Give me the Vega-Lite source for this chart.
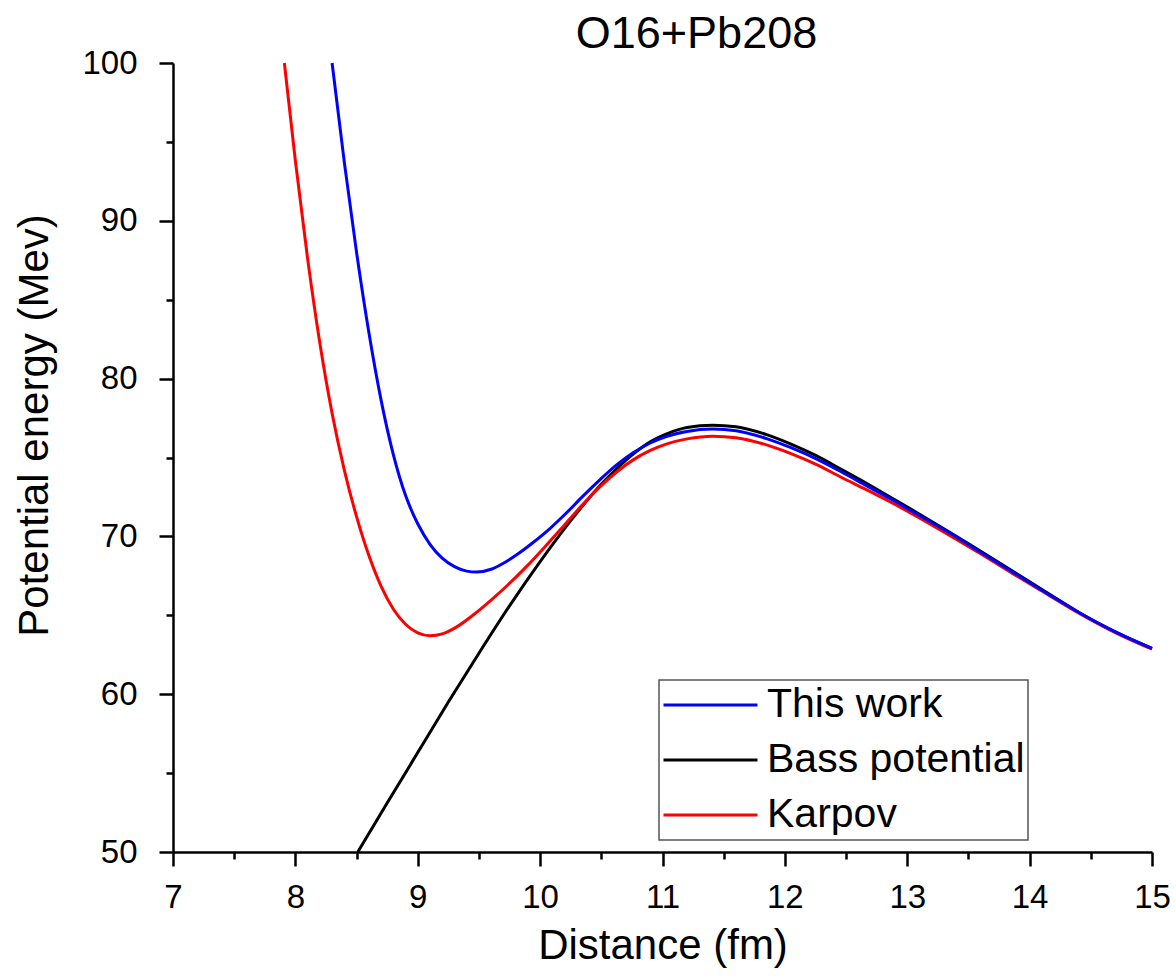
{
  "$schema": "https://vega.github.io/schema/vega-lite/v6.json",
  "width": 979,
  "height": 789,
  "autosize": {"type": "none"},
  "padding": {"left": 173, "top": 63, "right": 24, "bottom": 124},
  "background": "white",
  "config": {"view": {"stroke": null}, "font": "Liberation Sans"},
  "title": {"text": "O16+Pb208", "fontSize": 45, "fontWeight": "normal", "font": "Liberation Sans", "color": "black", "anchor": "middle", "frame": "group", "baseline": "alphabetic", "offset": 11, "dx": 34, "dy": 57},
  "data": {"values": [
    {"r": 8.51, "E": 50, "s": "Bass potential"},
    {"r": 8.75, "E": 53.1, "s": "Bass potential"},
    {"r": 9.0, "E": 56.3, "s": "Bass potential"},
    {"r": 9.25, "E": 59.5, "s": "Bass potential"},
    {"r": 9.5, "E": 62.6, "s": "Bass potential"},
    {"r": 9.75, "E": 65.6, "s": "Bass potential"},
    {"r": 10.0, "E": 68.4, "s": "Bass potential"},
    {"r": 10.25, "E": 71.0, "s": "Bass potential"},
    {"r": 10.5, "E": 73.3, "s": "Bass potential"},
    {"r": 10.75, "E": 75.15, "s": "Bass potential"},
    {"r": 10.9, "E": 76.0, "s": "Bass potential"},
    {"r": 11.05, "E": 76.55, "s": "Bass potential"},
    {"r": 11.2, "E": 76.9, "s": "Bass potential"},
    {"r": 11.41, "E": 77.05, "s": "Bass potential"},
    {"r": 11.6, "E": 76.95, "s": "Bass potential"},
    {"r": 11.85, "E": 76.45, "s": "Bass potential"},
    {"r": 12.05, "E": 75.85, "s": "Bass potential"},
    {"r": 12.26, "E": 75.1, "s": "Bass potential"},
    {"r": 12.46, "E": 74.25, "s": "Bass potential"},
    {"r": 12.67, "E": 73.35, "s": "Bass potential"},
    {"r": 12.87, "E": 72.45, "s": "Bass potential"},
    {"r": 13.07, "E": 71.55, "s": "Bass potential"},
    {"r": 13.35, "E": 70.25, "s": "Bass potential"},
    {"r": 13.6, "E": 69.05, "s": "Bass potential"},
    {"r": 13.86, "E": 67.8, "s": "Bass potential"},
    {"r": 14.14, "E": 66.45, "s": "Bass potential"},
    {"r": 14.41, "E": 65.15, "s": "Bass potential"},
    {"r": 14.7, "E": 63.95, "s": "Bass potential"},
    {"r": 15.0, "E": 62.9, "s": "Bass potential"},
    {"r": 7.91, "E": 100, "s": "Karpov"},
    {"r": 8.0, "E": 93.8, "s": "Karpov"},
    {"r": 8.1, "E": 87.6, "s": "Karpov"},
    {"r": 8.2, "E": 82.25, "s": "Karpov"},
    {"r": 8.3, "E": 77.8, "s": "Karpov"},
    {"r": 8.4, "E": 74.2, "s": "Karpov"},
    {"r": 8.5, "E": 71.25, "s": "Karpov"},
    {"r": 8.6, "E": 68.8, "s": "Karpov"},
    {"r": 8.7, "E": 66.85, "s": "Karpov"},
    {"r": 8.8, "E": 65.4, "s": "Karpov"},
    {"r": 8.9, "E": 64.43, "s": "Karpov"},
    {"r": 9.0, "E": 63.88, "s": "Karpov"},
    {"r": 9.1, "E": 63.7, "s": "Karpov"},
    {"r": 9.2, "E": 63.82, "s": "Karpov"},
    {"r": 9.315, "E": 64.25, "s": "Karpov"},
    {"r": 9.45, "E": 65.0, "s": "Karpov"},
    {"r": 9.59, "E": 65.9, "s": "Karpov"},
    {"r": 9.74, "E": 66.95, "s": "Karpov"},
    {"r": 9.89, "E": 68.1, "s": "Karpov"},
    {"r": 10.04, "E": 69.35, "s": "Karpov"},
    {"r": 10.19, "E": 70.65, "s": "Karpov"},
    {"r": 10.34, "E": 71.95, "s": "Karpov"},
    {"r": 10.49, "E": 73.15, "s": "Karpov"},
    {"r": 10.62, "E": 74.05, "s": "Karpov"},
    {"r": 10.76, "E": 74.85, "s": "Karpov"},
    {"r": 10.9, "E": 75.45, "s": "Karpov"},
    {"r": 11.03, "E": 75.85, "s": "Karpov"},
    {"r": 11.2, "E": 76.18, "s": "Karpov"},
    {"r": 11.41, "E": 76.35, "s": "Karpov"},
    {"r": 11.6, "E": 76.25, "s": "Karpov"},
    {"r": 11.85, "E": 75.8, "s": "Karpov"},
    {"r": 12.05, "E": 75.25, "s": "Karpov"},
    {"r": 12.26, "E": 74.55, "s": "Karpov"},
    {"r": 12.46, "E": 73.75, "s": "Karpov"},
    {"r": 12.67, "E": 72.95, "s": "Karpov"},
    {"r": 12.87, "E": 72.15, "s": "Karpov"},
    {"r": 13.07, "E": 71.3, "s": "Karpov"},
    {"r": 13.35, "E": 70.05, "s": "Karpov"},
    {"r": 13.6, "E": 68.9, "s": "Karpov"},
    {"r": 13.86, "E": 67.65, "s": "Karpov"},
    {"r": 14.14, "E": 66.35, "s": "Karpov"},
    {"r": 14.41, "E": 65.1, "s": "Karpov"},
    {"r": 14.7, "E": 63.9, "s": "Karpov"},
    {"r": 15.0, "E": 62.85, "s": "Karpov"},
    {"r": 8.3, "E": 100, "s": "This work"},
    {"r": 8.4, "E": 93.7, "s": "This work"},
    {"r": 8.5, "E": 88.0, "s": "This work"},
    {"r": 8.6, "E": 82.95, "s": "This work"},
    {"r": 8.7, "E": 78.65, "s": "This work"},
    {"r": 8.8, "E": 75.2, "s": "This work"},
    {"r": 8.9, "E": 72.6, "s": "This work"},
    {"r": 9.0, "E": 70.8, "s": "This work"},
    {"r": 9.1, "E": 69.5, "s": "This work"},
    {"r": 9.2, "E": 68.62, "s": "This work"},
    {"r": 9.3, "E": 68.08, "s": "This work"},
    {"r": 9.4, "E": 67.8, "s": "This work"},
    {"r": 9.48, "E": 67.74, "s": "This work"},
    {"r": 9.6, "E": 67.92, "s": "This work"},
    {"r": 9.7, "E": 68.3, "s": "This work"},
    {"r": 9.82, "E": 68.9, "s": "This work"},
    {"r": 9.94, "E": 69.6, "s": "This work"},
    {"r": 10.08, "E": 70.5, "s": "This work"},
    {"r": 10.21, "E": 71.45, "s": "This work"},
    {"r": 10.35, "E": 72.55, "s": "This work"},
    {"r": 10.49, "E": 73.6, "s": "This work"},
    {"r": 10.62, "E": 74.5, "s": "This work"},
    {"r": 10.76, "E": 75.3, "s": "This work"},
    {"r": 10.9, "E": 75.92, "s": "This work"},
    {"r": 11.03, "E": 76.33, "s": "This work"},
    {"r": 11.2, "E": 76.65, "s": "This work"},
    {"r": 11.41, "E": 76.8, "s": "This work"},
    {"r": 11.6, "E": 76.7, "s": "This work"},
    {"r": 11.85, "E": 76.2, "s": "This work"},
    {"r": 12.05, "E": 75.62, "s": "This work"},
    {"r": 12.26, "E": 74.9, "s": "This work"},
    {"r": 12.46, "E": 74.1, "s": "This work"},
    {"r": 12.67, "E": 73.2, "s": "This work"},
    {"r": 12.87, "E": 72.35, "s": "This work"},
    {"r": 13.07, "E": 71.45, "s": "This work"},
    {"r": 13.35, "E": 70.2, "s": "This work"},
    {"r": 13.6, "E": 69.0, "s": "This work"},
    {"r": 13.86, "E": 67.75, "s": "This work"},
    {"r": 14.14, "E": 66.4, "s": "This work"},
    {"r": 14.41, "E": 65.15, "s": "This work"},
    {"r": 14.7, "E": 63.95, "s": "This work"},
    {"r": 15.0, "E": 62.9, "s": "This work"}
  ]},
  "mark": {"type": "line", "strokeWidth": 3, "interpolate": "monotone"},
  "encoding": {
    "x": {
      "field": "r", "type": "quantitative",
      "scale": {"domain": [7, 15], "nice": false, "zero": false},
      "axis": {
        "values": [7, 7.5, 8, 8.5, 9, 9.5, 10, 10.5, 11, 11.5, 12, 12.5, 13, 13.5, 14, 14.5, 15],
        "format": ".0f",
        "labelExpr": "datum.value % 1 === 0 ? datum.label : ''",
        "grid": false,
        "domainColor": "black", "domainWidth": 2.5,
        "tickColor": "black", "tickWidth": 2.5,
        "tickSize": {"condition": {"test": "datum.value % 1 === 0", "value": 14}, "value": 7},
        "labelFontSize": 33, "labelColor": "black", "labelFont": "Liberation Sans", "labelPadding": 15,
        "labelFlush": false, "labelOverlap": false, "labelBound": false,
        "title": "Distance (fm)", "titleFontSize": 42, "titleFontWeight": "normal", "titleColor": "black", "titleFont": "Liberation Sans",
        "titleBaseline": "alphabetic", "titleY": 106
      }
    },
    "y": {
      "field": "E", "type": "quantitative",
      "scale": {"domain": [50, 100], "nice": false, "zero": false},
      "axis": {
        "values": [50, 55, 60, 65, 70, 75, 80, 85, 90, 95, 100],
        "format": ".0f",
        "labelExpr": "datum.value % 10 === 0 ? datum.label : ''",
        "grid": false,
        "domainColor": "black", "domainWidth": 2.5,
        "tickColor": "black", "tickWidth": 2.5,
        "tickSize": {"condition": {"test": "datum.value % 10 === 0", "value": 14}, "value": 7},
        "labelFontSize": 33, "labelColor": "black", "labelFont": "Liberation Sans", "labelPadding": 22,
        "labelFlush": false, "labelOverlap": false, "labelBound": false,
        "title": "Potential energy (Mev)", "titleFontSize": 42, "titleFontWeight": "normal", "titleColor": "black", "titleFont": "Liberation Sans",
        "titleBaseline": "alphabetic", "titleX": -126, "titleY": 362, "titleAngle": -90
      }
    },
    "color": {
      "field": "s", "type": "nominal",
      "scale": {"domain": ["This work", "Bass potential", "Karpov"], "range": ["#0000ff", "#000000", "#ff0000"]},
      "legend": {
        "orient": "none", "legendX": 486, "legendY": 617, "title": null,
        "symbolType": "stroke", "symbolSize": 8836, "symbolStrokeWidth": 3,
        "labelFontSize": 41, "labelFont": "Liberation Sans", "labelColor": "black", "labelOffset": 8, "labelLimit": 0,
        "clipHeight": 44, "rowPadding": 11, "padding": 3,
        "strokeColor": "#555555", "fillColor": "white",
        "encode": {"legend": {"update": {"strokeWidth": {"value": 1.5}}}}
      }
    }
  }
}
